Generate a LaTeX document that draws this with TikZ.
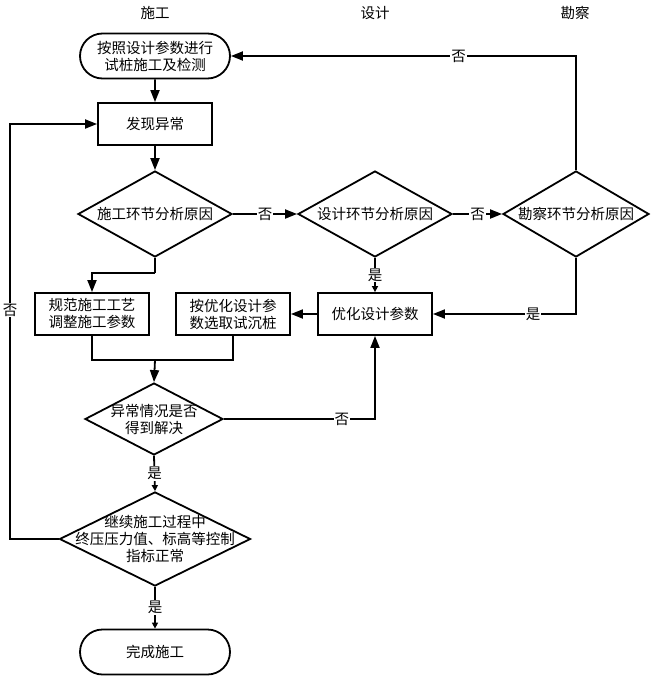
\documentclass[tikz,border=0pt]{standalone}
\usepackage{fontspec}
\setmainfont{Noto Sans CJK SC}
\usepackage{tikz}
\usetikzlibrary{positioning}
\usetikzlibrary{arrows.meta,shapes}
\usetikzlibrary{calc}
\tikzstyle{terminal}=[rounded rectangle,draw,line width=1.8pt,minimum width=150pt,minimum height=45pt,inner sep=0pt,align=center]
\tikzstyle{process}=[rectangle,draw,line width=1.8pt,minimum width=114pt,minimum height=42pt,inner sep=0pt,align=center]
\tikzstyle{decision}=[diamond,draw,line width=1.8pt,inner sep=0pt]
\tikzstyle{edge} = [draw,line width=1.8pt,-{Triangle[length=12pt,width=9pt]}]
\tikzstyle{smalledge} = [draw,line width=1.8pt,-{Triangle[length=6pt,width=6pt]}]
\tikzstyle{undirectededge} = [draw,line width=1.8pt]
\tikzstyle{weight} = [fill=white,inner sep=1pt]

\begin{document}
\begin{tikzpicture}[x=1pt,y=-1pt,every node/.style={font=\fontsize{14.5pt}{17pt}\selectfont}]
    \useasboundingbox (0,0) rectangle (652,680);

    % column headers
    \foreach \pos/\name/\txt in {{(155,13)/hsg/施工}, {(375,13)/hsj/设计}, {(575,13)/hkc/勘察}}
        \node (\name) at \pos {\txt};

    \foreach \pos/\name/\txt in {{(155,56)/start/按照设计参数进行\\试桩施工及检测}, {(155,652)/finish/完成施工}}
        \node[terminal] (\name) at \pos {\txt};

    \foreach \pos/\name/\txt in {{(155,124)/find/发现异常}, {(375,314)/opt/优化设计参数}, {(233,314)/sel/按优化设计参\\数选取试沉桩}, {(92,314)/norm/规范施工工艺\\调整施工参数}}
        \node[process] (\name) at \pos {\txt};

    \foreach \pos/\name/\w/\h/\txt in {{(155,214)/dsg/154/86/施工环节分析原因}, {(375,214)/dsj/154/86/设计环节分析原因}, {(576,214)/dkc/146/86/勘察环节分析原因}, {(154,419)/dok/138/72/{异常情况是否\\得到解决}}, {(155,539)/dgo/191/94/{继续施工过程中\\终压压力值、标高等控制\\指标正常}}}
        \node[decision,minimum width=\w pt,minimum height=\h pt,label={[align=center]center:\txt}] (\name) at \pos {};

    \coordinate (split) at (155,273);
    \coordinate (merge) at (155,360);
    \coordinate (back) at (10,124);

    \foreach \source/ \dest in {start/find, find/dsg, opt/sel}
        \path[edge] (\source) -- (\dest);

    \path[edge] (dsg.east) -- node[weight] {否} (dsj.west);
    \path[edge] (dsj.east) -- node[weight] {否} (dkc.west);
    \path[edge] (dkc.north) |- node[weight,pos=0.67] {否} (start.east);
    \path[edge] (dkc.south) |- node[weight,pos=0.65] {是} (opt.east);
    \path[smalledge] (dsj.south) -- node[weight] {是} (opt.north);
    \path[undirectededge] (dsg.south) -- (split);
    \path[edge] (split) -| (norm.north);
    \path[undirectededge] (norm.south) |- (merge) -| (sel.south);
    \path[edge] (merge) -- (dok.north);
    \path[edge] (dok.east) -| node[weight,pos=0.39] {否} (opt.south);
    \path[smalledge] (dok.south) -- node[weight] {是} (dgo.north);
    \path[edge] (dgo.west) -| node[weight,pos=0.776] {否} (back) -- (find.west);
    \path[smalledge] (dgo.south) -- node[weight] {是} (finish.north);

    \end{tikzpicture}
\end{document}
